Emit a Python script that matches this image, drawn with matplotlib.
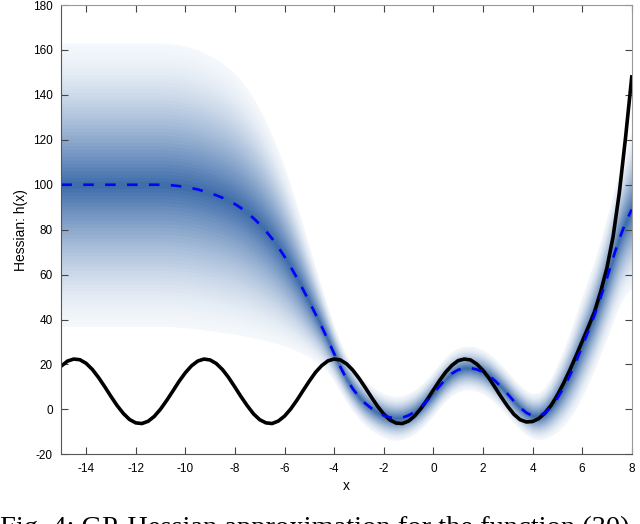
import numpy as np
import matplotlib
matplotlib.use("Agg")
import matplotlib.pyplot as plt

plt.rcParams['font.family'] = ['Liberation Sans', 'DejaVu Sans']
plt.rcParams['axes.unicode_minus'] = False

# grid of x positions (step 0.25 from -15 to 8)
x = np.linspace(-15, 8, 93)

# true Hessian h(x)
h_true = [19.3, 21.5, 22.4, 22.1, 20.5, 17.8, 14.2, 10.1, 5.8, 1.7, -1.8, -4.5, -6.0,
          -6.3, -5.3, -3.1, 0.1, 4.0, 8.2, 12.5, 16.3, 19.4, 21.5, 22.4, 22.0, 20.4,
          17.7, 14.1, 9.9, 5.6, 1.6, -2.0, -4.6, -6.0, -6.3, -5.2, -3.0, 0.2, 4.1,
          8.4, 12.6, 16.5, 19.5, 21.6, 22.4, 22.0, 20.3, 17.5, 13.9, 9.8, 5.5, 1.4,
          -2.1, -4.7, -6.1, -6.3, -5.2, -2.9, 0.4, 4.3, 8.6, 12.8, 16.6, 19.6, 21.7,
          22.4, 22.0, 20.2, 17.4, 13.8, 9.6, 5.3, 1.3, -2.2, -4.6, -5.6, -5.4, -4.1,
          -1.6, 1.8, 6.3, 11.6, 17.4, 23.7, 30.2, 36.7, 43.5, 52.5, 63.0, 77.0, 96.5,
          121.0, 148.0]

# GP posterior mean (dashed)
gp_mean = [100.0] * 17 + [
    99.9, 99.7, 99.4, 99.0, 98.5, 97.9, 97.1, 96.2, 95.3, 94.2, 92.9, 91.4,
    89.6, 87.5, 85.1, 82.4, 79.4, 76.0, 72.2, 68.0, 63.4, 58.5, 53.3, 47.9,
    42.4, 36.8, 30.9, 24.8, 18.9, 13.6, 9.2, 5.6, 2.7, 0.5, -1.3, -2.7, -3.6,
    -4.0, -3.7, -2.7, -1.1, 1.1, 3.9, 7.0, 10.4, 13.5, 16.0, 17.6, 18.4, 18.4,
    17.8, 16.7, 15.0, 12.6, 9.8, 6.8, 3.6, 0.8, -1.5, -2.9, -3.0, -1.6, 1.1,
    5.0, 9.6, 15.0, 21.2, 28.0, 34.8, 42.0, 50.0, 58.5, 67.5, 76.0, 83.0, 89.0]

# outer half-width of the shaded band
gp_band = [63.0] * 17 + [
    63.0, 62.9, 62.8, 62.6, 62.4, 62.1, 61.7, 61.2, 60.6, 59.9, 59.0, 57.9,
    56.6, 55.1, 53.3, 51.2, 48.8, 46.1, 43.1, 39.8, 36.2, 32.4, 28.5, 24.6,
    20.8, 17.3, 14.4, 12.3, 11.0, 10.3, 10.0] + [9.8] * 28 + [
    10.0, 10.5, 11.5, 13.0, 15.0, 17.0, 19.0, 21.0, 22.5, 23.5, 24.5, 25.5,
    27.0, 28.5, 30.0, 32.0, 35.0]

m = np.array(gp_mean)
w = np.array(gp_band)

fig = plt.figure(figsize=(6.4, 5.24), dpi=100)
ax = fig.add_axes([0.0958, 0.1330, 0.8913, 0.8574])

outer = np.array([0.955, 0.97, 0.985])
inner = np.array([0.25, 0.43, 0.67])
n = 40
for i in range(n):
    k = 1 - i / n
    t = (i / (n - 1)) ** 1.5
    ax.fill_between(x, m - k * w, m + k * w, color=outer + (inner - outer) * t,
                    linewidth=0)

ax.plot(x, h_true, color='black', lw=2.6)
ax.plot(x, gp_mean, color='#0000ff', lw=1.9, dashes=(4, 4.3))

ax.set_xlim(-15, 8)
ax.set_ylim(-20, 180)
ax.set_xticks(np.arange(-14, 9, 2))
ax.set_yticks(np.arange(-20, 181, 20))
ax.tick_params(direction='in', length=5, width=0.8, color='#444444',
               labelsize=8.5, top=True, right=True, pad=6)
for s in ['left', 'bottom']:
    ax.spines[s].set_color('#555555')
for s in ['top', 'right']:
    ax.spines[s].set_color('#999999')
ax.set_xlabel('x', fontsize=10, labelpad=3)
ax.set_ylabel('Hessian: h(x)', fontsize=10, labelpad=4)

# caption of the paper figure, cut by the lower edge as in the source
fig.text(0.0, -0.021, 'Fig. 4: GP-Hessian approximation for the function (30)',
         family=['Liberation Serif', 'DejaVu Serif'], fontsize=20.5,
         va='baseline', ha='left')

fig.savefig('out.png', dpi=100)
